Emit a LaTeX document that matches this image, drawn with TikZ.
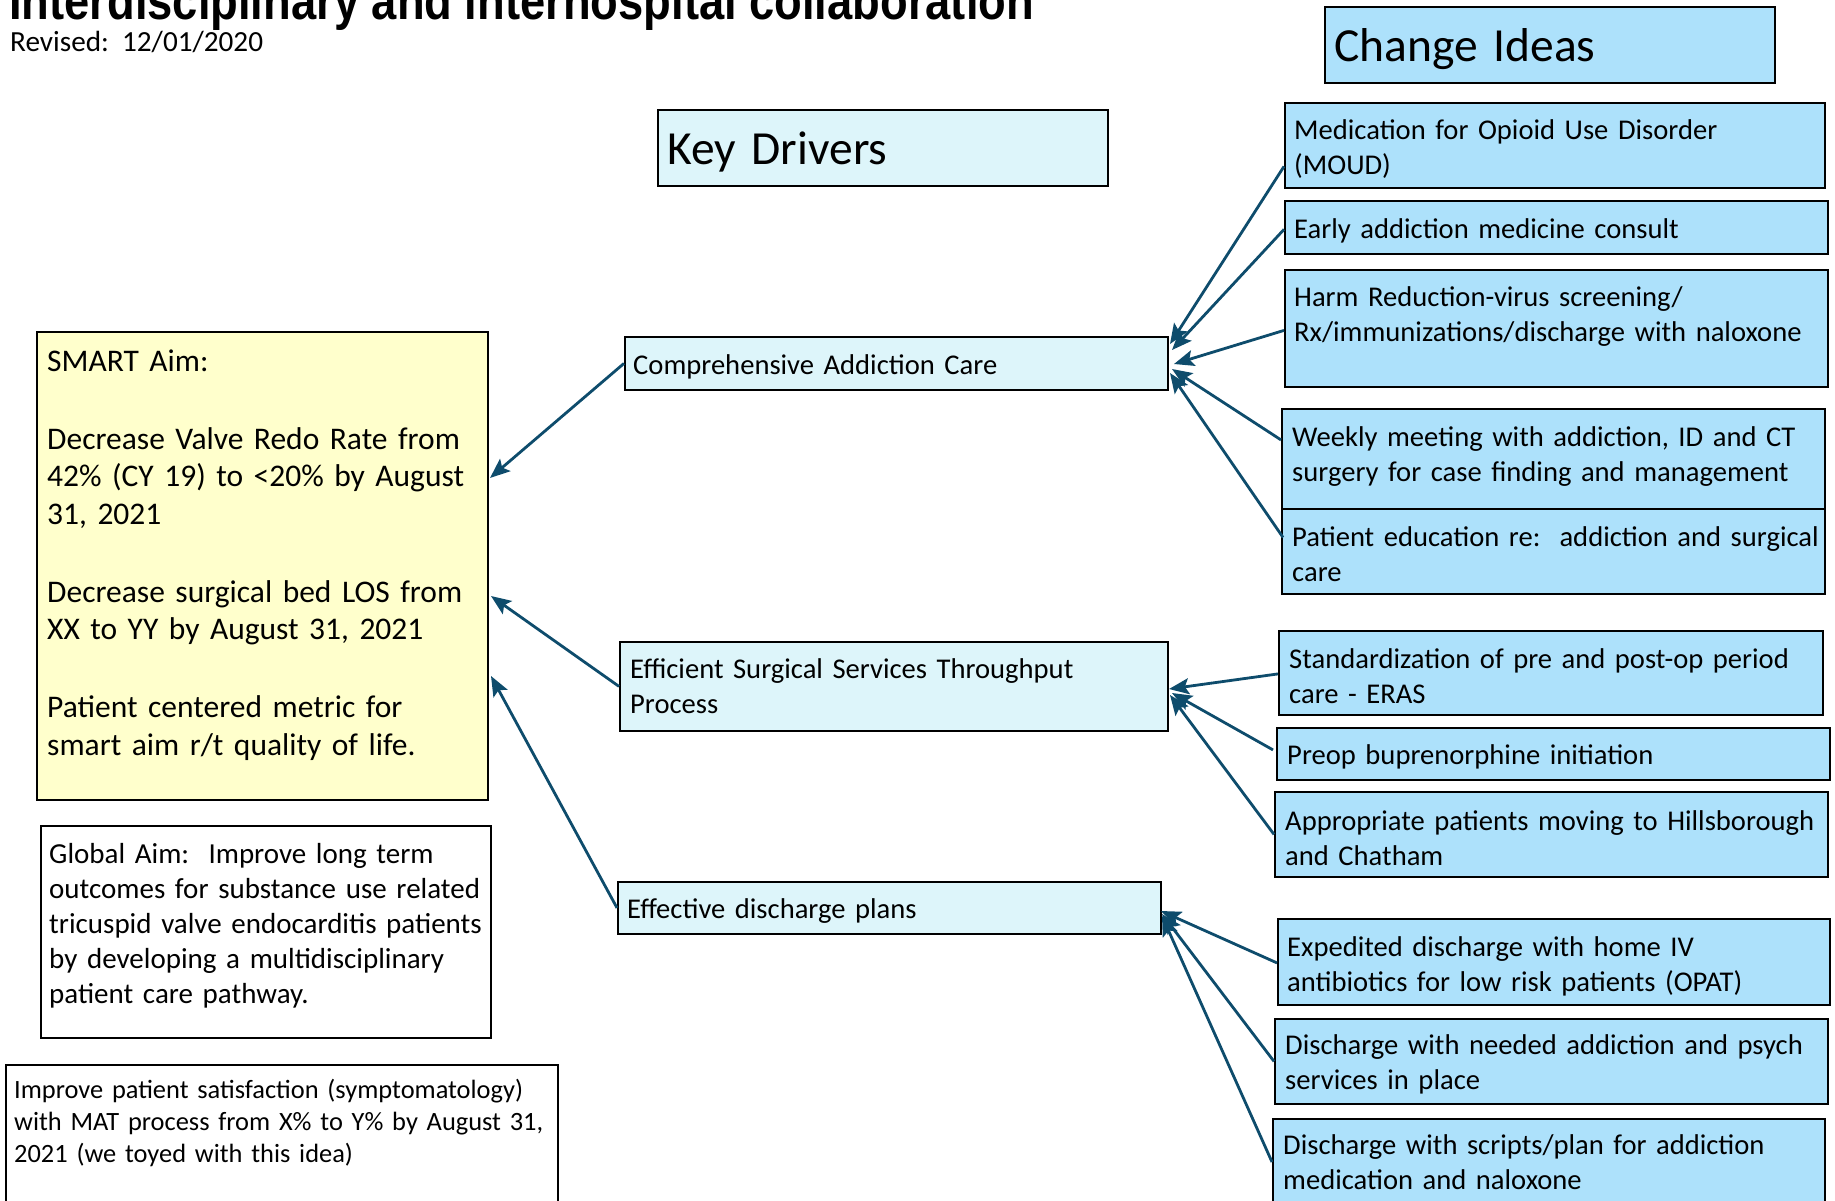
\documentclass[tikz,border=0pt]{standalone}
\usepackage{fontspec}
\setmainfont{Carlito}
\newfontfamily\titlefont[FakeStretch=0.855]{Liberation Sans}
\usetikzlibrary{arrows.meta}
\definecolor{cidea}{HTML}{ADE1FB}
\definecolor{kdriver}{HTML}{DDF5FA}
\definecolor{aimyellow}{HTML}{FFFFCC}
\definecolor{arrowblue}{HTML}{0E4C6C}
\newcommand{\myfs}[2]{\fontsize{#1}{#2}\selectfont}
\frenchspacing
\begin{document}
\frenchspacing
\begin{tikzpicture}[x=1pt,y=-1pt,
  box/.style={draw=black, line width=1.8pt, inner sep=0pt, anchor=north west},
  ideabox/.style={box, fill=cidea},
  driverbox/.style={box, fill=kdriver},
  txt/.style={anchor=base west, inner sep=0pt, text width=#1},
  ideatext/.style={txt=560pt, font=\myfs{28.6}{35}},
  headtext/.style={txt=440pt, font=\myfs{47.5}{56}},
  conn/.style={draw=arrowblue, line width=2.8pt, -{Stealth[length=20pt,width=16pt,inset=4pt]}}]
\useasboundingbox (0,0) rectangle (1835,1200);

% title
\node[anchor=base west, inner sep=0pt, font=\titlefont\bfseries\fontsize{53}{60}\selectfont] (title) at (9,19) {Interdisciplinary and interhospital collaboration};
\node[anchor=base west, inner sep=0pt, font=\fontsize{29.2}{34}\selectfont] (revised) at (10,51) {Revised:\ \ 12/01/2020};

% headers
\node[ideabox, minimum width=450pt, minimum height=76pt] (hci) at (1324,6) {};
\node[headtext] (hcit) at (1334,61) {Change Ideas};
\node[driverbox, minimum width=450pt, minimum height=76pt] (hkd) at (657,109) {};
\node[headtext] (hkdt) at (667,164) {Key Drivers};

% aims
\node[box, fill=aimyellow, minimum width=451pt, minimum height=468pt] (smart) at (36,331) {};
\node[txt=440pt, font=\myfs{31.5}{37.5}] (smartt) at (47,371) {SMART Aim:\\[40.5pt]Decrease Valve Redo Rate from\\42\% (CY 19) to <20\% by August\\31, 2021\\[40.5pt]Decrease surgical bed LOS from\\XX to YY by August 31, 2021\\[40.5pt]Patient centered metric for\\smart aim r/t quality of life.};
\node[box, fill=white, minimum width=450pt, minimum height=212pt] (global) at (40,825) {};
\node[txt=440pt, font=\myfs{29}{35}] (globalt) at (49,863) {Global Aim:\ \ Improve long term\\outcomes for substance use related\\tricuspid valve endocarditis patients\\by developing a multidisciplinary\\patient care pathway.};
\node[box, fill=white, minimum width=552pt, minimum height=160pt] (improve) at (5,1064) {};
\node[txt=540pt, font=\myfs{26.4}{32}] (improvet) at (14,1098) {Improve patient satisfaction (symptomatology)\\with MAT process from X\% to Y\% by August 31,\\2021 (we toyed with this idea)};

% key drivers
\node[driverbox, minimum width=543pt, minimum height=53pt] (d1) at (624,336) {};
\node[ideatext] (d1t) at (633,374) {Comprehensive Addiction Care};
\node[driverbox, minimum width=548pt, minimum height=89pt] (d2) at (619,641) {};
\node[ideatext] (d2t) at (630,678) {Efficient Surgical Services Throughput\\Process};
\node[driverbox, minimum width=543pt, minimum height=52pt] (d3) at (617,881) {};
\node[ideatext] (d3t) at (627,918) {Effective discharge plans};

% change ideas
\node[ideabox, minimum width=540pt, minimum height=85pt] (i1) at (1284,102) {};
\node[ideatext] (i1t) at (1294,139.5) {Medication for Opioid Use Disorder\\(MOUD)};
\node[ideabox, minimum width=543pt, minimum height=53pt] (i2) at (1284,200) {};
\node[ideatext] (i2t) at (1294,238) {Early addiction medicine consult};
\node[ideabox, minimum width=543pt, minimum height=117pt] (i3) at (1284,269) {};
\node[ideatext] (i3t) at (1294,306) {Harm Reduction-virus screening/\\Rx/immunizations/discharge with naloxone};
\node[ideabox, minimum width=543pt, minimum height=100pt] (i4) at (1281,408) {};
\node[ideatext] (i4t) at (1292,446) {Weekly meeting with addiction, ID and CT\\surgery for case finding and management};
\node[ideabox, minimum width=543pt, minimum height=85pt] (i5) at (1281,508) {};
\node[ideatext] (i5t) at (1292,546) {Patient education re:\ \ addiction and surgical\\care};
\node[ideabox, minimum width=544pt, minimum height=84pt] (i6) at (1278,630) {};
\node[ideatext] (i6t) at (1289,668) {Standardization of pre and post-op period\\care - ERAS};
\node[ideabox, minimum width=553pt, minimum height=52pt] (i7) at (1276,727) {};
\node[ideatext] (i7t) at (1287,764) {Preop buprenorphine initiation};
\node[ideabox, minimum width=553pt, minimum height=85pt] (i8) at (1274,791) {};
\node[ideatext] (i8t) at (1285,830) {Appropriate patients moving to Hillsborough\\and Chatham};
\node[ideabox, minimum width=552pt, minimum height=86pt] (i9) at (1277,918) {};
\node[ideatext] (i9t) at (1287,956) {Expedited discharge with home IV\\antibiotics for low risk patients (OPAT)};
\node[ideabox, minimum width=553pt, minimum height=85pt] (i10) at (1274,1018) {};
\node[ideatext] (i10t) at (1285,1054) {Discharge with needed addiction and psych\\services in place};
\node[ideabox, minimum width=552pt, minimum height=110pt] (i11) at (1272,1118) {};
\node[ideatext] (i11t) at (1283,1154) {Discharge with scripts/plan for addiction\\medication and naloxone};

% arrow tips
\coordinate (a1) at (490,478);
\coordinate (a2) at (491,596);
\coordinate (a3) at (491,676);
\coordinate (c1) at (1170,344);
\coordinate (c2) at (1172,350);
\coordinate (c3) at (1174,364);
\coordinate (c4) at (1172,369);
\coordinate (c5) at (1170,373);
\coordinate (e1) at (1169,689);
\coordinate (e2) at (1172,693);
\coordinate (e3) at (1170,695);
\coordinate (f1) at (1161,911);
\coordinate (f2) at (1162,914);
\coordinate (f3) at (1162,916);

% connectors
\draw[conn] (d1.west) -- (a1);
\draw[conn] (d2.west) -- (a2);
\draw[conn] (d3.west) -- (a3);

\draw[conn] ([yshift=-21pt]i1.west) -- (c1);
\draw[conn] ([yshift=-2pt]i2.west) -- (c2);
\draw[conn] ([yshift=-2pt]i3.west) -- (c3);
\draw[conn] ([yshift=19pt]i4.west) -- (c4);
\draw[conn] ([xshift=2pt,yshift=14pt]i5.west) -- (c5);

\draw[conn] ([yshift=-1pt]i6.west) -- (e1);
\draw[conn] ([xshift=-3pt,yshift=4pt]i7.west) -- (e2);
\draw[conn] (i8.west) -- (e3);

\draw[conn] ([yshift=-1pt]i9.west) -- (f1);
\draw[conn] (i10.west) -- (f2);
\draw[conn] ([yshift=-44pt]i11.north west) -- (f3);
\end{tikzpicture}
\end{document}
